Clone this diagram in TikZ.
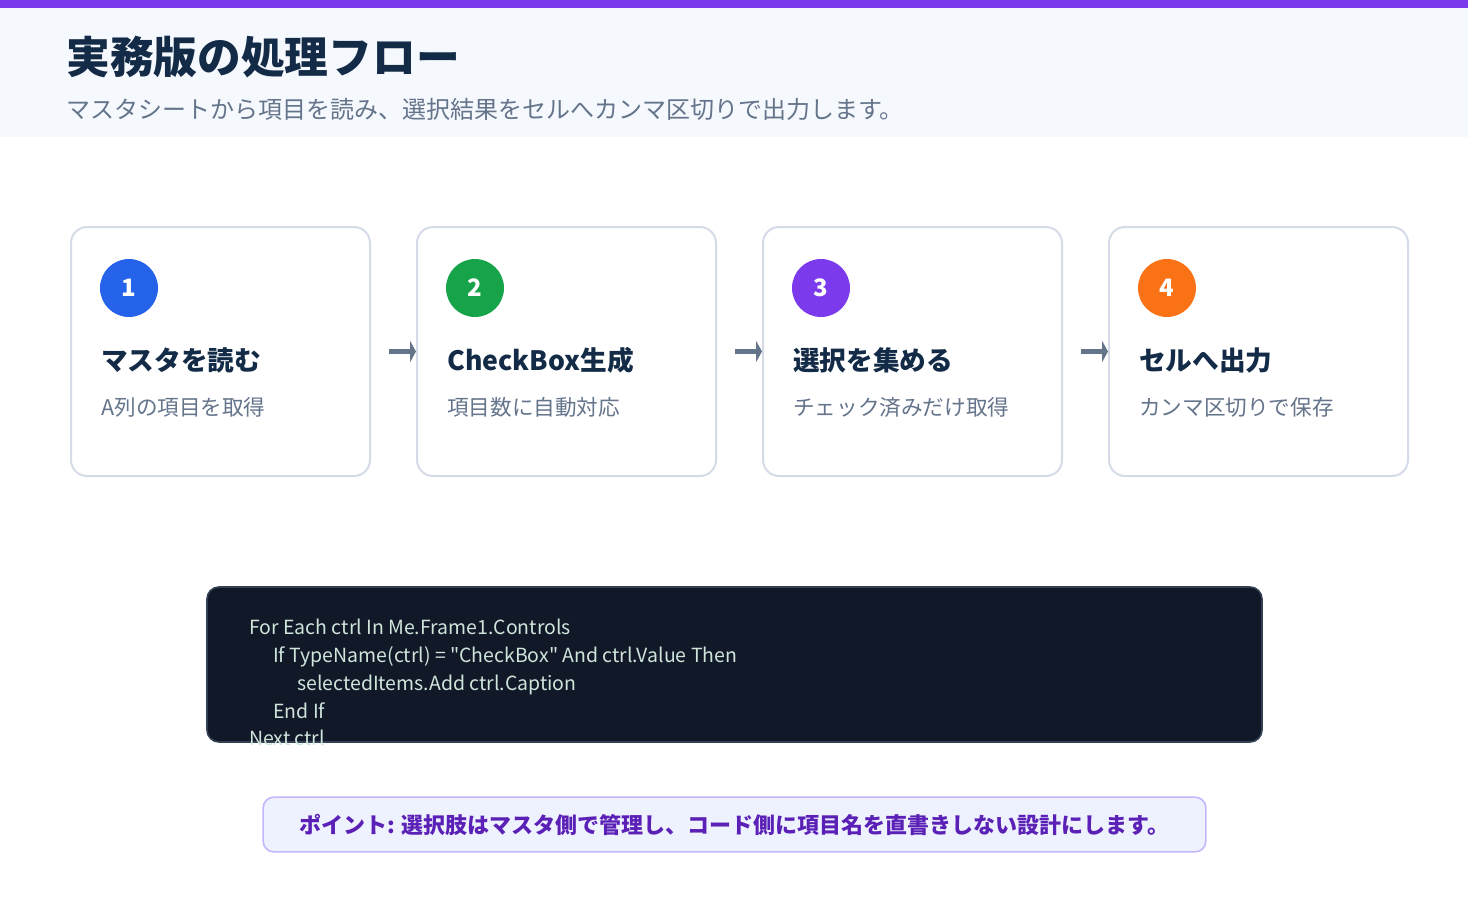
\documentclass[tikz,border=0pt]{standalone}
\usepackage{fontspec}
\setmainfont{Noto Sans CJK JP}
\newfontfamily\codefont{Noto Sans CJK JP}[Ligatures=TeXOff]
\usetikzlibrary{arrows.meta}

\definecolor{barpurple}{HTML}{7C3AED}
\definecolor{headbg}{HTML}{F5F8FC}
\definecolor{titlenavy}{HTML}{132B47}
\definecolor{subgray}{HTML}{64748B}
\definecolor{cardline}{HTML}{D5DCE8}
\definecolor{stepblue}{HTML}{2563EB}
\definecolor{stepgreen}{HTML}{16A34A}
\definecolor{steppurple}{HTML}{7C3AED}
\definecolor{steporange}{HTML}{F97316}
\definecolor{codebg}{HTML}{111827}
\definecolor{codeline}{HTML}{334155}
\definecolor{codetext}{HTML}{CFE5DC}
\definecolor{notebg}{HTML}{EEF2FF}
\definecolor{noteline}{HTML}{C4B5FD}
\definecolor{notetext}{HTML}{5B21B6}

\begin{document}
\begin{tikzpicture}[x=0.75pt, y=-0.75pt,
    card/.style={draw=cardline, line width=1.5pt, fill=white, rounded corners=12pt,
        minimum width=224.25pt, minimum height=186.75pt},
    badge/.style={circle, minimum size=43.5pt, inner sep=0pt, text=white,
        font=\fontsize{18}{18}\selectfont\bfseries},
    heading/.style={anchor=west, inner sep=0pt, text=titlenavy,
        font=\fontsize{20}{20}\selectfont\bfseries},
    subtext/.style={anchor=west, inner sep=0pt, text=subgray,
        font=\fontsize{16.2}{16.2}\selectfont},
    flowarrow/.style={draw=subgray, line width=3.75pt, shorten <=13.5pt,
        -{Triangle[length=4.5pt, width=16pt]}},
    codeln/.style={anchor=base west, inner sep=0pt, text=codetext,
        font=\codefont\fontsize{14.6}{14.6}\selectfont}]

    \useasboundingbox (0,0) rectangle (1468,900);

    % 1. Header band
    \fill[headbg] (0,8) rectangle (1468,137);
    \fill[barpurple] (0,0) rectangle (1468,8);
    \node[anchor=west, inner sep=0pt, text=titlenavy,
        font=\fontsize{32.8}{32.8}\selectfont\bfseries] (title) at (66,57) {実務版の処理フロー};
    \node[anchor=west, inner sep=0pt, text=subgray,
        font=\fontsize{18}{18}\selectfont] (subtitle) at (66,109)
        {マスタシートから項目を読み、選択結果をセルへカンマ区切りで出力します。};

    % 2. Step cards
    \node[card] (c1) at (220.5,351.5) {};
    \node[card] (c2) at (566.5,351.5) {};
    \node[card] (c3) at (912.5,351.5) {};
    \node[card] (c4) at (1258.5,351.5) {};

    % 3. Arrows between cards
    \draw[flowarrow] (c1.east) -- (c2.west);
    \draw[flowarrow] (c2.east) -- (c3.west);
    \draw[flowarrow] (c3.east) -- (c4.west);

    % 4. Badges and card texts
    \node[badge, fill=stepblue] (b1) at (129,288) {1};
    \node[heading] (h1) at (101,360) {マスタを読む};
    \node[subtext] (s1) at (101,407) {A列の項目を取得};

    \node[badge, fill=stepgreen] (b2) at (475,288) {2};
    \node[heading] (h2) at (447,360) {CheckBox生成};
    \node[subtext] (s2) at (447,407) {項目数に自動対応};

    \node[badge, fill=steppurple] (b3) at (821,288) {3};
    \node[heading] (h3) at (793,360) {選択を集める};
    \node[subtext] (s3) at (793,407) {チェック済みだけ取得};

    \node[badge, fill=steporange] (b4) at (1167,288) {4};
    \node[heading] (h4) at (1139,360) {セルへ出力};
    \node[subtext] (s4) at (1139,407) {カンマ区切りで保存};

    % 5. Code panel
    \draw[fill=codebg, draw=codeline, line width=1.2pt, rounded corners=9pt]
        (207,587) rectangle (1262,742);
    \node[codeln] (code1) at (249,634) {For Each ctrl In Me.Frame1.Controls};
    \node[codeln] (code2) at (273,662) {If TypeName(ctrl) = "CheckBox" And ctrl.Value Then};
    \node[codeln] (code3) at (297,690) {selectedItems.Add ctrl.Caption};
    \node[codeln] (code4) at (273,718) {End If};
    \node[codeln] (code5) at (249,745) {Next ctrl};

    % 6. Note box
    \node[draw=noteline, fill=notebg, line width=1.2pt, rounded corners=8pt,
        minimum width=707pt, minimum height=41pt, text=notetext,
        font=\fontsize{16.5}{16.5}\selectfont\bfseries] (note) at (734.5,824.5)
        {ポイント: 選択肢はマスタ側で管理し、コード側に項目名を直書きしない設計にします。};

\end{tikzpicture}
\end{document}
